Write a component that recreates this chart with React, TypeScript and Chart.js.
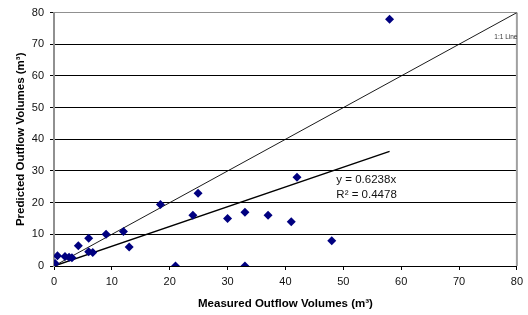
import React, { useEffect, useRef } from "react";
import { Chart, registerables } from "chart.js";

Chart.register(...registerables);

const measured = [0.2, 0.6, 1.9, 2.6, 3.1, 4.2, 6.0, 6.0, 6.7, 9.0, 12.0, 13.0, 18.4, 21.0, 24.0, 24.9, 30.0, 33.0, 33.0, 37.0, 41.0, 42.0, 48.0, 58.0];
const predicted = [0.8, 3.2, 3.0, 2.8, 2.6, 6.4, 8.8, 4.5, 4.3, 10.0, 10.9, 6.0, 19.4, 0, 16.0, 23.0, 15.0, 17.0, 0, 16.0, 14.0, 28.0, 8.0, 77.9];
const slope = 0.6238;
const rSquared = 0.4478;
const axisMin = 0;
const axisMax = 80;
const tickStep = 10;
const eqLabel = "y = " + slope + "x";
const r2Label = "R\u00B2 = " + rSquared;
const eqPos = { x: 48.8, y: 27.2 };
const r2Pos = { x: 48.8, y: 22.4 };
const oneToOneLabel = "1:1 Line";
const oneToOnePos = { x: 78.1, y: 72.1 };

const FONT = "'Liberation Sans', Arial, sans-serif";

export default function App() {
  const ref = useRef<HTMLCanvasElement | null>(null);
  useEffect(() => {
    const canvas = ref.current;
    if (!canvas) return;
    const maxX = Math.max(...measured);
    const points = measured.map((x, i) => ({ x, y: predicted[i] }));
    const plugin = {
      id: "extras",
      beforeDatasetsDraw(chart: any) {
        const { ctx, chartArea } = chart;
        ctx.save();
        ctx.strokeStyle = "#a0a0a0";
        ctx.lineWidth = 2;
        ctx.beginPath();
        ctx.moveTo(chartArea.right, chartArea.top);
        ctx.lineTo(chartArea.right, chartArea.bottom);
        ctx.stroke();
        ctx.restore();
      },
      afterDatasetsDraw(chart: any) {
        const { ctx, scales } = chart;
        const xs = scales.x, ys = scales.y;
        ctx.save();
        ctx.fillStyle = "#111";
        ctx.textBaseline = "middle";
        ctx.textAlign = "left";
        ctx.font = "11.5px " + FONT;
        ctx.fillText(eqLabel, xs.getPixelForValue(eqPos.x), ys.getPixelForValue(eqPos.y));
        ctx.fillText(r2Label, xs.getPixelForValue(r2Pos.x), ys.getPixelForValue(r2Pos.y));
        ctx.font = "6.5px " + FONT;
        ctx.fillStyle = "#333";
        ctx.textAlign = "center";
        ctx.fillText(oneToOneLabel, xs.getPixelForValue(oneToOnePos.x), ys.getPixelForValue(oneToOnePos.y));
        ctx.restore();
      },
    };
    const chart = new Chart(canvas, {
      type: "scatter",
      data: {
        datasets: [
          {
            label: "Data",
            data: points,
            pointStyle: "rectRot",
            pointRadius: 4.5,
            backgroundColor: "#000080",
            borderColor: "#000080",
            borderWidth: 0,
            showLine: false,
          },
          {
            label: "Trend",
            data: [{ x: 0, y: 0 }, { x: maxX, y: slope * maxX }],
            showLine: true,
            borderColor: "#000",
            borderWidth: 1.5,
            pointRadius: 0,
          },
          {
            label: "1:1",
            data: [{ x: axisMin, y: axisMin }, { x: axisMax, y: axisMax }],
            showLine: true,
            borderColor: "#000",
            borderWidth: 0.9,
            pointRadius: 0,
          },
        ],
      },
      options: {
        animation: false,
        responsive: false,
        devicePixelRatio: 1,
        layout: { padding: { left: 0, right: 8, top: 10, bottom: 0 } },
        plugins: { legend: { display: false }, tooltip: { enabled: false } },
        scales: {
          x: {
            type: "linear",
            min: axisMin,
            max: axisMax,
            afterFit: (s: any) => { s.height = 49; },
            ticks: { stepSize: tickStep, color: "#111", font: { family: FONT, size: 11 }, padding: 5 },
            grid: { drawOnChartArea: false, drawTicks: true, tickLength: 4, tickColor: "#000", color: "#000" },
            border: { display: true, color: "#000", width: 1 },
            title: {
              display: true,
              text: "Measured Outflow Volumes (m\u00B3)",
              color: "#000",
              font: { family: FONT, size: 11.5, weight: "bold" },
              padding: { top: 0, bottom: 4 },
            },
          },
          y: {
            type: "linear",
            min: axisMin,
            max: axisMax,
            afterFit: (s: any) => { s.width = 54; },
            ticks: { stepSize: tickStep, color: "#111", font: { family: FONT, size: 11 }, padding: 6 },
            grid: {
              drawTicks: true,
              tickLength: 4,
              tickColor: "#000",
              color: (c: any) => (c.tick && c.tick.value === axisMax ? "#909090" : "#000"),
              lineWidth: 1,
            },
            border: { display: true, color: "#909090", width: 2 },
            title: {
              display: true,
              text: "Predicted Outflow Volumes (m\u00B3)",
              color: "#000",
              font: { family: FONT, size: 11.5, weight: "bold" },
              padding: { top: 14, bottom: 0 },
            },
          },
        },
      },
      plugins: [plugin],
    } as any);
    return () => chart.destroy();
  }, []);
  return (
    <div style={{ position: "absolute", left: 0, top: 0, width: 528, height: 315, background: "#fff" }}>
      <canvas ref={ref} width={528} height={315} style={{ display: "block" }} />
    </div>
  );
}
